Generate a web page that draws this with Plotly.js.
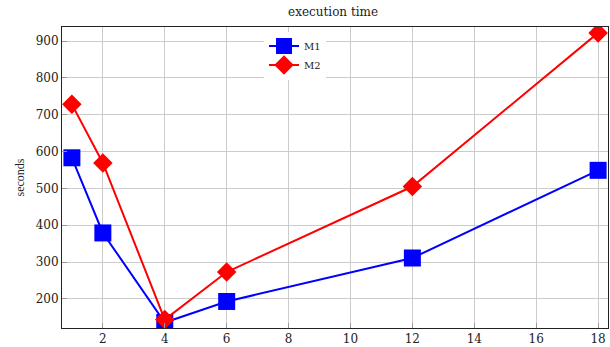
<!DOCTYPE html>
<html><head><meta charset="utf-8">
<script src="https://cdn.plot.ly/plotly-3.0.1.min.js"></script>
<style>body{margin:0;background:#fff}#c{width:610px;height:347px}</style>
</head><body><div id="c"></div>
<script>
const xVals = [1, 2, 4, 6, 12, 18];
const m1 = [583, 379, 136, 193, 311, 549];
const m2 = [728, 569, 144, 273, 505, 922];
const xTicks = [2, 4, 6, 8, 10, 12, 14, 16, 18];
const yTicks = [200, 300, 400, 500, 600, 700, 800, 900];

const data = [
  {x: xVals, y: m1, name: 'M1', mode: 'lines+markers', type: 'scatter',
   line: {color: '#0000ff', width: 2}, marker: {symbol: 'square', size: 17, color: '#0000ff'}},
  {x: xVals, y: m2, name: 'M2', mode: 'lines+markers', type: 'scatter',
   line: {color: '#ff0000', width: 2}, marker: {symbol: 'diamond', size: 15, color: '#ff0000'}}
];
const axFont = {family: 'DejaVu Serif', size: 12, color: '#222'};
const layout = {
  width: 610, height: 347,
  margin: {l: 62, r: 2, t: 27, b: 19},
  paper_bgcolor: '#fff', plot_bgcolor: '#fff',
  title: {text: 'execution time', font: {family: 'DejaVu Serif', size: 12, color: '#222'}, x: 0.546, xanchor: 'center', y: 0.965, yanchor: 'middle'},
  showlegend: true,
  legend: {x: 0.37, y: 0.985, xanchor: 'left', yanchor: 'top', bgcolor: '#fff', borderwidth: 0,
    font: {family: 'DejaVu Serif', size: 10, color: '#222'}, tracegroupgap: 0, itemwidth: 30},
  xaxis: {range: [0.68, 18.32], tickvals: xTicks, showgrid: true, gridcolor: '#cccccc', gridwidth: 1,
    zeroline: false, showline: true, linecolor: '#222', linewidth: 1, mirror: true,
    ticks: 'inside', ticklen: 5, tickcolor: '#999', tickfont: axFont},
  yaxis: {range: [121, 938], tickvals: yTicks, showgrid: true, gridcolor: '#cccccc', gridwidth: 1,
    zeroline: false, showline: true, linecolor: '#222', linewidth: 1, mirror: true,
    ticks: 'inside', ticklen: 5, tickcolor: '#999', tickfont: axFont,
    title: {text: 'seconds', font: {family: 'Liberation Serif', size: 12, color: '#222'}, standoff: 8}}
};
Plotly.newPlot('c', data, layout, {displayModeBar: false, staticPlot: true});
</script></body></html>
